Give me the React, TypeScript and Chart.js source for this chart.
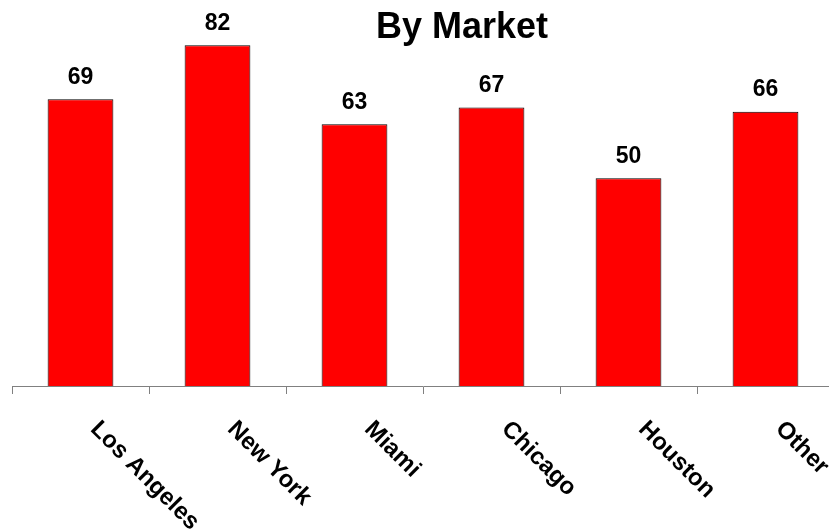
import React, { useEffect, useRef } from "react";
import { Chart, registerables } from "chart.js";

Chart.register(...registerables);

const categories = ["Los Angeles", "New York", "Miami", "Chicago", "Houston", "Other"];
const values = [69, 82, 63, 67, 50, 66];
const chartTitle = "By Market";
const yMin = 0;
const yMax = 90;

const FONT = '"Liberation Sans", Arial, Helvetica, sans-serif';

export default function App() {
  const ref = useRef<HTMLCanvasElement>(null);

  useEffect(() => {
    const canvas = ref.current;
    if (!canvas) return;

    const labelPlugin = {
      id: "customLabels",
      afterDraw(chart: any) {
        const ctx = chart.ctx;
        const xs = chart.scales.x;
        const ys = chart.scales.y;
        ctx.save();
        ctx.fillStyle = "#000";
        ctx.textBaseline = "alphabetic";

        ctx.font = `bold 36px ${FONT}`;
        ctx.textAlign = "center";
        ctx.fillText(chartTitle, 462, 38);

        ctx.font = `bold 23px ${FONT}`;
        values.forEach((v, i) => {
          const x = xs.getPixelForValue(i);
          const y = ys.getPixelForValue(v);
          ctx.fillText(String(v), x, y - 15.5);
        });

        ctx.font = `bold 24px ${FONT}`;
        ctx.textAlign = "left";
        categories.forEach((c, i) => {
          const x = xs.getPixelForValue(i);
          ctx.save();
          ctx.translate(x + 9, chart.chartArea.bottom + 44);
          ctx.rotate(Math.PI / 4);
          ctx.fillText(c, 0, 0);
          ctx.restore();
        });
        ctx.restore();
      },
    };

    const chart = new Chart(canvas, {
      type: "bar",
      data: {
        labels: categories,
        datasets: [
          {
            data: values,
            backgroundColor: "#FF0000",
            borderColor: "#000000",
            borderWidth: 1,
            categoryPercentage: 1,
            barPercentage: 0.48,
          },
        ],
      },
      options: {
        animation: false,
        responsive: false,
        devicePixelRatio: 1,
        layout: { padding: { left: 12, right: 6, top: 12, bottom: 137 } },
        plugins: {
          legend: { display: false },
          tooltip: { enabled: false },
          title: { display: false },
        },
        scales: {
          x: {
            grid: {
              offset: true,
              drawOnChartArea: false,
              drawTicks: true,
              tickLength: 8,
              color: "#808080",
            },
            border: { display: true, color: "#808080", width: 1 },
            ticks: { display: false },
          },
          y: {
            display: false,
            min: yMin,
            max: yMax,
          },
        },
      },
      plugins: [labelPlugin],
    });

    return () => chart.destroy();
  }, []);

  return (
    <div
      style={{
        position: "absolute",
        left: 0,
        top: 0,
        width: 829,
        height: 531,
        overflow: "hidden",
        background: "#fff",
      }}
    >
      <canvas ref={ref} width={840} height={531} style={{ width: 840, height: 531, display: "block" }} />
    </div>
  );
}
